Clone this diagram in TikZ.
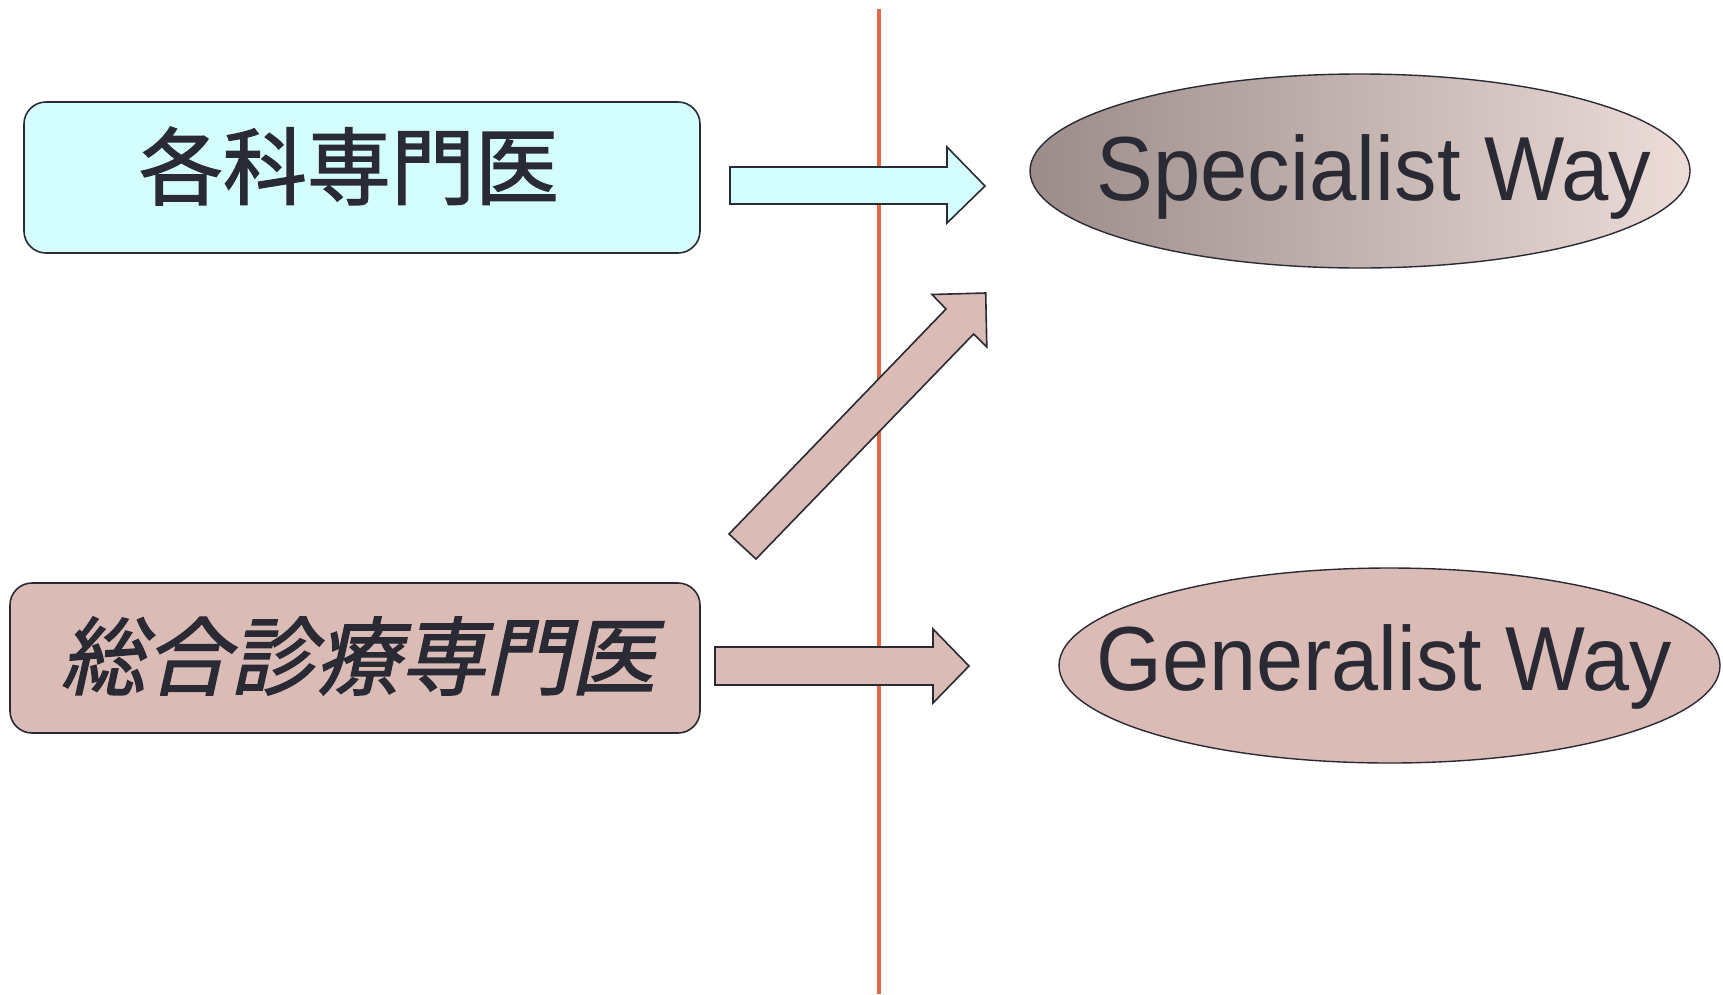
\documentclass[tikz,border=0pt]{standalone}
\usepackage{fontspec}
\usepackage{graphicx}
\setmainfont{Liberation Sans}
\newfontfamily\cjk[FakeBold=1.6]{Noto Sans CJK JP}
\newfontfamily\cjkit[FakeSlant=0.22,FakeBold=1.6]{Noto Sans CJK JP}
\definecolor{inkc}{HTML}{2A2A35}
\definecolor{cyanf}{HTML}{D4FDFD}
\definecolor{pinkf}{HTML}{DBBBB6}
\definecolor{gradl}{HTML}{9B8C89}
\definecolor{gradr}{HTML}{EDDCD8}
\definecolor{redline}{HTML}{E06A48}
\tikzset{
  boxs/.style={draw=inkc, line width=1.6pt, rounded corners=22pt, inner sep=0pt},
  ells/.style={draw=inkc, line width=1.4pt, ellipse, inner sep=0pt},
  blockarrow/.style={draw=inkc, line width=1.6pt, line join=miter},
  jtext/.style={text=inkc, inner sep=0pt, font=\cjk\fontsize{84}{90}\selectfont},
  jitext/.style={text=inkc, inner sep=0pt, font=\cjkit\fontsize{85}{90}\selectfont},
  etext/.style={text=inkc, inner sep=0pt, anchor=base, font=\fontsize{91}{96}\selectfont},
}
\usetikzlibrary{shapes.geometric}
\begin{document}
\begin{tikzpicture}[x=1pt,y=-1pt]
\useasboundingbox (0,0) rectangle (1723,994);
% vertical line
\coordinate (ltop) at (879,9);
\coordinate (lbot) at (879,994);
\draw[redline, line width=3.5pt] (ltop) -- (lbot);
% boxes
\node[boxs, fill=cyanf, minimum width=676pt, minimum height=151pt] (spec) at (362,177.5) {};
\node[jtext] (spectext) at (349,166) {各科専門医};
\node[boxs, fill=pinkf, minimum width=690pt, minimum height=150pt] (gen) at (355,658) {};
\node[jitext] (gentext) at (358,656) {総合診療専門医};
% ellipses
\node[ells, left color=gradl, right color=gradr, minimum width=660pt, minimum height=194pt] (sway) at (1360,171) {};
\node[etext] (swaytext) at (1374,200) {\scalebox{0.935}[1]{Specialist Way}};
\node[ells, fill=pinkf, minimum width=661pt, minimum height=195pt] (gway) at (1389.5,665.5) {};
\node[etext] (gwaytext) at (1384,690) {\scalebox{0.93}[1]{Generalist Way}};
% block arrows
\draw[blockarrow, fill=cyanf] (730,167) -- (947,167) -- (947,147) -- (985,186) -- (947,223) -- (947,204) -- (730,204) -- cycle;
\draw[blockarrow, fill=pinkf] (715,647) -- (933,647) -- (933,629) -- (969,666) -- (933,703) -- (933,685) -- (715,685) -- cycle;
\draw[blockarrow, fill=pinkf] (729,534) -- (946,309) -- (932,294.5) -- (985.7,293) -- (986.8,347) -- (973.6,334) -- (756,559) -- cycle;
\end{tikzpicture}
\end{document}
